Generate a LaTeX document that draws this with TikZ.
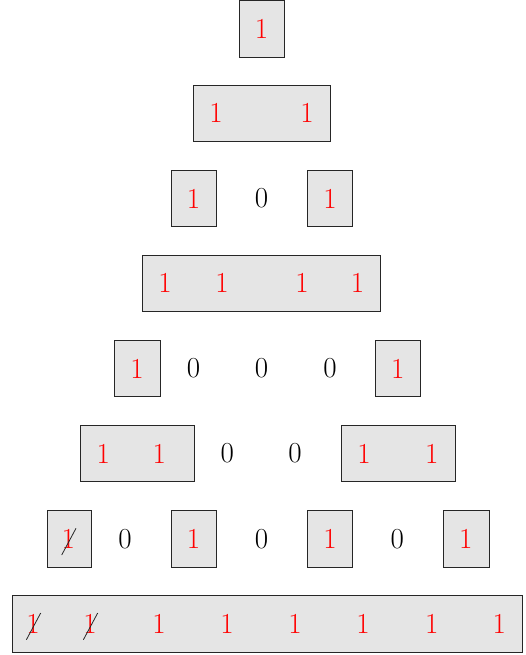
\documentclass[tikz,border=0pt]{standalone}
\tikzset{
  cellbox/.style={draw=black!85, fill=black!10, line width=0.9pt, inner sep=0pt, minimum height=56.5pt},
  one/.style={text=red, inner sep=0pt, font=\fontsize{29}{35}\selectfont},
  zero/.style={text=black, inner sep=0pt, font=\fontsize{29}{35}\selectfont},
  slash/.style={draw=black!85, line width=0.8pt}
}
\begin{document}
\begin{tikzpicture}[x=1pt,y=-1pt]
\useasboundingbox (0,0) rectangle (526,655);
% boxes
\node[cellbox, minimum width=45pt] (b1) at (261.5,29) {};
\node[cellbox, minimum width=136.7pt] (b2) at (261.65,113.3) {};
\node[cellbox, minimum width=45.7pt] (b3a) at (193.85,198.5) {};
\node[cellbox, minimum width=45.4pt] (b3b) at (330,198.5) {};
\node[cellbox, minimum width=238pt] (b4) at (261.7,283.3) {};
\node[cellbox, minimum width=45.7pt] (b5a) at (137.15,368.5) {};
\node[cellbox, minimum width=45.4pt] (b5b) at (398,368.5) {};
\node[cellbox, minimum width=114.3pt] (b6a) at (137.15,453.5) {};
\node[cellbox, minimum width=114pt] (b6b) at (398,453.5) {};
\node[cellbox, minimum width=44pt] (b7a) at (69,539) {};
\node[cellbox, minimum width=45.7pt] (b7b) at (193.85,539) {};
\node[cellbox, minimum width=45.4pt] (b7c) at (330,539) {};
\node[cellbox, minimum width=45.7pt] (b7d) at (466.15,539) {};
\node[cellbox, minimum width=509.7pt] (b8) at (267.15,623.7) {};
% row 1
\node[one] (r1a) at (261.5,29) {1};
% row 2
\node[one] (r2a) at (216,113.3) {1};
\node[one] (r2b) at (307,113.3) {1};
% row 3
\node[one] (r3a) at (193.5,198.5) {1};
\node[zero] (r3b) at (261.5,198.5) {0};
\node[one] (r3c) at (330,198.5) {1};
% row 4
\foreach \x [count=\i] in {165,222,302,357.5}
  \node[one] (r4\i) at (\x,283.3) {1};
% row 5
\node[one] (r5a) at (137,368.5) {1};
\foreach \x [count=\i] in {193.5,261.5,330}
  \node[zero] (r5z\i) at (\x,368.5) {0};
\node[one] (r5e) at (397.7,368.5) {1};
% row 6
\node[one] (r6a) at (103.3,453.5) {1};
\node[one] (r6b) at (159.3,453.5) {1};
\node[zero] (r6c) at (227.3,453.5) {0};
\node[zero] (r6d) at (295,453.5) {0};
\node[one] (r6e) at (364,453.5) {1};
\node[one] (r6f) at (431.7,453.5) {1};
% row 7
\node[one] (r7a) at (68.3,539) {1};
\node[zero] (r7b) at (125,539) {0};
\node[one] (r7c) at (193.5,539) {1};
\node[zero] (r7d) at (261.5,539) {0};
\node[one] (r7e) at (330,539) {1};
\node[zero] (r7f) at (397.3,539) {0};
\node[one] (r7g) at (465.7,539) {1};
% row 8
\node[one] (r8a) at (33,623.7) {1};
\node[one] (r8b) at (90,623.7) {1};
\foreach \x [count=\i] in {159,227,295,363,431.7,499.3}
  \node[one] (r8c\i) at (\x,623.7) {1};
% cancel slashes
\foreach \n in {r7a,r8a,r8b}
  \draw[slash] (\n.center) ++(-6.6,16) -- ++(14.3,-26.7);
\end{tikzpicture}
\end{document}
